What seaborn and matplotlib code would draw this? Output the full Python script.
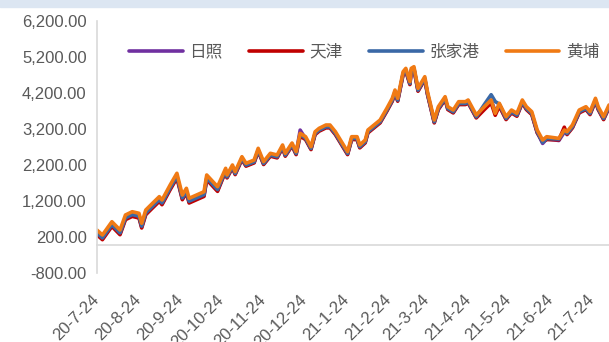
import pandas as pd
import numpy as np
import matplotlib.pyplot as plt
from matplotlib.patches import Rectangle
from matplotlib.ticker import FuncFormatter
import seaborn as sns

dates = ['2020-07-24', '2020-07-28', '2020-08-04', '2020-08-10', '2020-08-14', '2020-08-19',
         '2020-08-24', '2020-08-26', '2020-08-29', '2020-09-03', '2020-09-08', '2020-09-10',
         '2020-09-16', '2020-09-21', '2020-09-25', '2020-09-28', '2020-09-30', '2020-10-11',
         '2020-10-13', '2020-10-21', '2020-10-27', '2020-10-28', '2020-11-01', '2020-11-03',
         '2020-11-08', '2020-11-11', '2020-11-17', '2020-11-20', '2020-11-24', '2020-11-29',
         '2020-12-04', '2020-12-08', '2020-12-10', '2020-12-15', '2020-12-18', '2020-12-21',
         '2020-12-25', '2020-12-29', '2021-01-01', '2021-01-04', '2021-01-09', '2021-01-12',
         '2021-01-16', '2021-01-25', '2021-01-28', '2021-02-01', '2021-02-03', '2021-02-07',
         '2021-02-09', '2021-02-18', '2021-02-23', '2021-02-27', '2021-03-01', '2021-03-03',
         '2021-03-07', '2021-03-09', '2021-03-12', '2021-03-13', '2021-03-15', '2021-03-18',
         '2021-03-23', '2021-03-25', '2021-03-30', '2021-04-02', '2021-04-07', '2021-04-09',
         '2021-04-13', '2021-04-17', '2021-04-22', '2021-04-24', '2021-04-30', '2021-05-06',
         '2021-05-11', '2021-05-14', '2021-05-17', '2021-05-22', '2021-05-26', '2021-05-30',
         '2021-06-03', '2021-06-06', '2021-06-10', '2021-06-14', '2021-06-18', '2021-06-21',
         '2021-06-30', '2021-07-04', '2021-07-06', '2021-07-10', '2021-07-15', '2021-07-20',
         '2021-07-23', '2021-07-27', '2021-07-29', '2021-08-02', '2021-08-06']

rizhao = [300, 164, 532, 302, 718, 809, 765, 488, 856, 1042, 1226, 1133, 1549, 1873, 1272, 1457,
          1180, 1363, 1826, 1502, 2051, 1866, 2143, 1957, 2373, 2190, 2281, 2605, 2236, 2467,
          2420, 2697, 2467, 2752, 2511, 3170, 2927, 2650, 3065, 3159, 3251, 3251, 3065, 2511,
          2927, 2927, 2697, 2835, 3112, 3389, 3713, 3990, 4220, 3990, 4727, 4820, 4450, 4820,
          4866, 4267, 4589, 4173, 3389, 3758, 4035, 3758, 3666, 3897, 3897, 3943, 3527, 3800,
          3990, 3700, 3852, 3481, 3666, 3574, 3943, 3758, 3619, 3112, 2800, 2927, 2881, 3112,
          3065, 3251, 3666, 3758, 3619, 3990, 3758, 3481, 3805]

tianjin = [270, 134, 502, 272, 688, 779, 735, 458, 826, 1012, 1196, 1103, 1519, 1843, 1242, 1427,
           1150, 1333, 1796, 1472, 2031, 1846, 2123, 1937, 2353, 2170, 2261, 2585, 2216, 2447,
           2400, 2677, 2447, 2732, 2491, 3001, 2907, 2630, 3045, 3139, 3231, 3231, 3045, 2491,
           2907, 2907, 2677, 2815, 3092, 3369, 3693, 3970, 4200, 3970, 4707, 4800, 4430, 4800,
           4846, 4247, 4569, 4153, 3369, 3738, 4015, 3738, 3646, 3877, 3877, 3923, 3507, 3738,
           3923, 3580, 3832, 3461, 3646, 3554, 3923, 3738, 3599, 3092, 2850, 2907, 2900, 3250,
           3045, 3231, 3646, 3738, 3599, 3970, 3738, 3461, 3785]

zhangjiagang = [320, 184, 552, 322, 738, 829, 785, 508, 876, 1062, 1246, 1153, 1569, 1893, 1292, 1477,
                1200, 1383, 1846, 1522, 2061, 1876, 2153, 1967, 2383, 2200, 2291, 2615, 2246, 2477,
                2430, 2707, 2477, 2762, 2521, 3060, 2937, 2660, 3075, 3169, 3261, 3261, 3075, 2521,
                2937, 2937, 2707, 2845, 3122, 3399, 3723, 4000, 4230, 4000, 4737, 4830, 4460, 4830,
                4876, 4277, 4599, 4183, 3399, 3768, 4045, 3768, 3676, 3907, 3907, 3953, 3537, 3880,
                4150, 3960, 3890, 3491, 3676, 3584, 3953, 3768, 3629, 3122, 2830, 2937, 2920, 3150,
                3075, 3261, 3676, 3768, 3629, 4000, 3768, 3491, 3815]

huangpu = [400, 264, 632, 402, 818, 909, 865, 588, 956, 1142, 1326, 1233, 1649, 1973, 1372, 1557,
           1280, 1463, 1926, 1602, 2111, 1926, 2203, 2017, 2433, 2250, 2341, 2665, 2296, 2527,
           2480, 2757, 2527, 2812, 2571, 3081, 2987, 2710, 3125, 3219, 3311, 3311, 3125, 2571,
           2987, 2987, 2757, 2895, 3172, 3449, 3773, 4050, 4280, 4050, 4787, 4880, 4510, 4880,
           4926, 4327, 4649, 4233, 3449, 3818, 4095, 3818, 3726, 3957, 3957, 4003, 3587, 3818,
           4003, 3634, 3912, 3541, 3726, 3634, 4003, 3818, 3679, 3172, 2895, 2987, 2941, 3172,
           3125, 3311, 3726, 3818, 3679, 4050, 3818, 3541, 3865]

ports = ['日照', '天津', '张家港', '黄埔']
colors = ['#7030A0', '#C00000', '#3A68A6', '#F07A14']
tick_dates = ['2020-07-24', '2020-08-24', '2020-09-24', '2020-10-24', '2020-11-24', '2020-12-24',
              '2021-01-24', '2021-02-24', '2021-03-24', '2021-04-24', '2021-05-24', '2021-06-24',
              '2021-07-24']

d = pd.to_datetime(dates)
df = pd.concat([pd.DataFrame({'date': d, 'value': v, 'port': p})
                for p, v in zip(ports, [rizhao, tianjin, zhangjiagang, huangpu])])

sns.set_style("white")
plt.rcParams['font.family'] = ['Liberation Sans', 'Noto Sans CJK SC']

fig = plt.figure(figsize=(6.09, 3.42), dpi=100)
fig.patches.append(Rectangle((0, 1 - 7 / 342), 1, 7 / 342, transform=fig.transFigure,
                             color='#DCE6F2', zorder=0))
ax = fig.add_axes([97 / 609, 1 - 273.4 / 342, 1 - 97 / 609, (273.4 - 20.7) / 342])

sns.lineplot(data=df, x='date', y='value', hue='port', hue_order=ports,
             palette=colors, linewidth=2.6, ax=ax)

ax.set_ylim(-800, 6200)
ax.set_yticks(np.arange(-800, 6201, 1000))
ax.yaxis.set_major_formatter(FuncFormatter(lambda v, p: f"{v:,.2f}"))
ax.set_xlim(pd.Timestamp('2020-07-24'), pd.Timestamp('2021-08-06'))
td = pd.to_datetime(tick_dates)
ax.set_xticks(td)
ax.set_xticklabels([f"{t.year % 100}-{t.month}-{t.day}" for t in td])
ax.set_xlabel('')
ax.set_ylabel('')

for s in ['top', 'right']:
    ax.spines[s].set_visible(False)
ax.spines['bottom'].set_position(('data', 0))
for s in ['left', 'bottom']:
    ax.spines[s].set_color('#D9D9D9')
    ax.spines[s].set_linewidth(1.2)
ax.tick_params(axis='both', colors='#D9D9D9', length=4, width=1.2, direction='out',
               labelcolor='#595959', labelsize=12)
ax.tick_params(axis='x', pad=34)
plt.setp(ax.get_xticklabels(), rotation=45, ha='right', va='center', rotation_mode='anchor')

ax.legend(loc='center', bbox_to_anchor=(0.598, 0.848), bbox_transform=fig.transFigure,
          ncol=4, frameon=False, fontsize=12, handlelength=3.2, handletextpad=0.4,
          columnspacing=1.6, labelcolor='#595959')

fig.savefig('out.png', dpi=100)
